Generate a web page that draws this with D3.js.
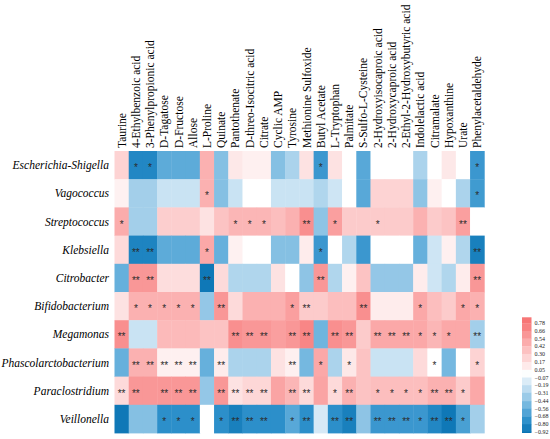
<!DOCTYPE html>
<html>
<head>
<meta charset="utf-8">
<script src="https://cdn.jsdelivr.net/npm/d3@7"></script>
<style>
  html, body { margin: 0; padding: 0; background: #ffffff; }
  svg { display: block; }
</style>
</head>
<body>
<svg id="chart" width="550" height="439"></svg>
<script>
// ---------------- DATA ----------------
const genera = ["Escherichia-Shigella", "Vagococcus", "Streptococcus", "Klebsiella", "Citrobacter",
  "Bifidobacterium", "Megamonas", "Phascolarctobacterium", "Paraclostridium", "Veillonella"];

const metabolites = ["Taurine", "4-Ethylbenzoic acid", "3-Phenylpropionic acid", "D-Tagatose", "D-Fructose",
  "Allose", "L-Proline", "Quinate", "Pantothenate", "D-threo-Isocitric acid", "Citrate", "Cyclic AMP",
  "Tyrosine", "Methionine Sulfoxide", "Butyl Acetate", "L-Tryptophan", "Palmitate", "S-Sulfo-L-Cysteine",
  "2-Hydroxyisocaproic acid", "2-Hydroxycaproic acid", "2-Ethyl-2-Hydroxybutyric acid", "Indolelactic acid",
  "Citramalate", "Hypoxanthine", "Urate", "Phenylacetaldehyde"];

// correlation coefficients, one row per genus (columns follow metabolites)
const corrEscherichia = [0.25, -0.8, -0.8, -0.58, -0.58, -0.58, 0.45, -0.45, 0.12, 0.08, 0.08, -0.45, -0.32, 0.15, -0.7, 0.15, 0, -0.6, 0, 0, 0, -0.32, 0, 0.12, 0, -0.7];
const corrVagococcus = [0.07, -0.35, -0.35, -0.2, -0.2, -0.2, 0.45, -0.45, -0.2, 0, 0, -0.2, -0.2, -0.2, -0.3, -0.18, 0, -0.6, 0.25, 0.25, 0.25, -0.42, 0.08, 0, -0.32, -0.68];
const corrStreptococcus = [0.48, -0.35, -0.35, 0.28, 0.28, 0.28, 0.15, 0.35, 0.42, 0.42, 0.42, 0.38, 0.45, 0.65, -0.42, 0.55, 0.3, 0.3, 0.3, 0.3, 0.3, 0.45, 0.3, 0.35, 0.55, 0];
const corrKlebsiella = [0.2, -0.82, -0.82, -0.58, -0.58, -0.58, 0.5, -0.55, 0.07, 0, 0, -0.45, -0.45, 0.1, -0.7, 0, -0.3, -0.7, 0, 0, 0, -0.55, -0.18, 0.08, -0.3, -0.85];
const corrCitrobacter = [-0.55, 0.6, 0.6, 0.18, 0.18, 0.18, -0.9, 0.2, -0.3, -0.3, -0.3, 0.15, 0, -0.42, 0.6, -0.3, 0.08, 0.35, -0.4, -0.4, -0.4, 0.1, -0.18, -0.3, 0.1, 0.6];
const corrBifidobacterium = [0.15, 0.45, 0.45, 0.45, 0.45, 0.45, -0.4, 0.6, 0.2, 0.45, 0.45, 0.45, 0.55, 0.3, 0.3, 0.38, 0.38, 0.65, 0.1, 0.1, 0.1, 0.5, 0.38, 0.3, 0.5, 0.45];
const corrMegamonas = [0.65, -0.2, -0.2, 0.4, 0.4, 0.4, 0.35, 0.35, 0.65, 0.6, 0.6, 0.55, 0.6, 0.7, -0.52, 0.65, 0.6, 0.3, 0.5, 0.5, 0.5, 0.5, 0.42, 0.5, 0.5, -0.35];
const corrPhascolarctobacterium = [-0.55, 0.45, 0.45, 0.08, 0.08, 0.08, -0.55, 0.1, -0.32, -0.32, -0.32, 0.15, 0.08, -0.5, 0.5, -0.32, 0.12, 0.35, -0.2, -0.2, -0.2, 0.2, 0, -0.5, 0, 0.25];
const corrParaclostridium = [0.2, 0.6, 0.6, 0.6, 0.6, 0.6, -0.4, 0.6, 0.15, 0.22, 0.22, 0.52, 0.42, 0.2, 0.52, 0.2, 0.45, 0.35, 0.38, 0.38, 0.38, 0.38, 0.45, 0.45, 0.3, 0.5];
const corrVeillonella = [-0.9, -0.45, -0.45, -0.75, -0.75, -0.75, 0, -0.75, -0.85, -0.75, -0.75, -0.75, -0.6, -0.75, -0.15, -0.75, -0.85, -0.42, -0.7, -0.7, -0.7, -0.7, -0.8, -0.9, -0.65, -0.35];

// significance marks
const sigEscherichia = ["", "*", "*", "", "", "", "", "", "", "", "", "", "", "", "*", "", "", "", "", "", "", "", "", "", "", "*"];
const sigVagococcus = ["", "", "", "", "", "", "*", "", "", "", "", "", "", "", "", "", "", "", "", "", "", "", "", "", "", "*"];
const sigStreptococcus = ["*", "", "", "", "", "", "", "", "*", "*", "*", "", "", "**", "", "*", "", "", "*", "", "", "", "", "", "**", ""];
const sigKlebsiella = ["", "**", "**", "", "", "", "*", "", "", "", "", "", "", "", "*", "", "", "", "", "", "", "", "", "", "", "**"];
const sigCitrobacter = ["", "**", "**", "", "", "", "**", "", "", "", "", "", "", "", "**", "", "", "", "", "", "", "", "", "", "", "**"];
const sigBifidobacterium = ["", "*", "*", "*", "*", "*", "", "**", "", "", "", "", "*", "**", "", "", "", "**", "", "", "", "*", "", "", "*", "*"];
const sigMegamonas = ["**", "", "", "", "", "", "", "", "**", "**", "**", "", "**", "**", "", "**", "**", "", "**", "**", "**", "*", "*", "*", "", "**"];
const sigPhascolarctobacterium = ["", "**", "**", "**", "**", "**", "", "**", "", "", "", "", "**", "", "*", "", "*", "", "", "", "", "", "*", "", "", "*"];
const sigParaclostridium = ["**", "**", "", "**", "**", "**", "", "**", "**", "**", "**", "", "**", "**", "", "*", "**", "", "*", "*", "*", "*", "**", "**", "*", ""];
const sigVeillonella = ["", "", "", "*", "*", "*", "", "*", "**", "**", "**", "", "*", "**", "", "**", "**", "", "**", "**", "**", "*", "**", "**", "*", ""];

const legendTicks = [0.78, 0.66, 0.54, 0.42, 0.30, 0.17, 0.05, -0.07, -0.19, -0.31, -0.44, -0.56, -0.68, -0.80, -0.92];

// ---------------- BUILD ----------------
const corrRows = [corrEscherichia, corrVagococcus, corrStreptococcus, corrKlebsiella, corrCitrobacter,
  corrBifidobacterium, corrMegamonas, corrPhascolarctobacterium, corrParaclostridium, corrVeillonella];
const sigRows = [sigEscherichia, sigVagococcus, sigStreptococcus, sigKlebsiella, sigCitrobacter,
  sigBifidobacterium, sigMegamonas, sigPhascolarctobacterium, sigParaclostridium, sigVeillonella];

const cells = [];
genera.forEach((g, r) => metabolites.forEach((m, c) => {
  cells.push({ genus: g, metab: m, v: corrRows[r][c], sig: sigRows[r][c] });
}));

const svg = d3.select("#chart");
svg.append("rect").attr("width", 550).attr("height", 439).attr("fill", "#ffffff");

const x = d3.scaleBand().domain(metabolites).range([114.5, 484.3]).paddingInner(0).paddingOuter(0);
const y = d3.scaleBand().domain(genera).range([151, 433]).paddingInner(0).paddingOuter(0);

const posColor = d3.scaleLinear().domain([0, 0.15, 0.35, 0.55, 0.8])
  .range(["#ffffff", "#fde2e2", "#fcc3c3", "#fa9f9f", "#f77676"]).clamp(true);
const negColor = d3.scaleLinear().domain([0, -0.15, -0.35, -0.55, -0.75, -0.95])
  .range(["#ffffff", "#d6e9f6", "#a3cfea", "#66b0dc", "#2c8fca", "#0570b0"]).clamp(true);
const color = v => v >= 0 ? posColor(v) : negColor(v);

// cells
svg.append("g").selectAll("rect").data(cells).join("rect")
  .attr("x", d => x(d.metab))
  .attr("y", d => y(d.genus))
  .attr("width", x.bandwidth() + 0.4)
  .attr("height", y.bandwidth() + 0.4)
  .attr("fill", d => color(d.v));

// significance stars
svg.append("g").selectAll("text").data(cells.filter(d => d.sig)).join("text")
  .attr("x", d => x(d.metab) + x.bandwidth() / 2)
  .attr("y", d => y(d.genus) + y.bandwidth() / 2)
  .attr("dy", "0.6em")
  .attr("text-anchor", "middle")
  .attr("font-family", "'Liberation Sans', Arial, sans-serif")
  .attr("font-size", 10)
  .attr("fill", "#2b2b2b")
  .text(d => d.sig);

// column labels (rotated)
svg.append("g").selectAll("text").data(metabolites).join("text")
  .attr("transform", d => `translate(${x(d) + x.bandwidth() / 2},148) rotate(-90)`)
  .attr("dy", "0.35em")
  .attr("text-anchor", "start")
  .attr("font-family", "'Liberation Serif', 'Times New Roman', serif")
  .attr("font-size", 11.5)
  .attr("fill", "#000")
  .text(d => d);

// row labels
svg.append("g").selectAll("text").data(genera).join("text")
  .attr("x", 109)
  .attr("y", d => y(d) + y.bandwidth() / 2)
  .attr("dy", "0.35em")
  .attr("text-anchor", "end")
  .attr("font-family", "'Liberation Serif', 'Times New Roman', serif")
  .attr("font-style", "italic")
  .attr("font-size", 11.5)
  .attr("fill", "#000")
  .text(d => d);

// color legend (stepped)
const barTop = 317.3, barBottom = 432.7, barX = 522, barW = 9.5;
const yBar = d3.scaleLinear().domain([legendTicks[0], legendTicks[legendTicks.length - 1]]).range([323.3, 431.7]);
const bounds = [barTop, ...legendTicks.map(t => yBar(t)), barBottom];
const blocks = d3.pairs(bounds).map(([a, b]) => ({ y0: a, y1: b, v: yBar.invert((a + b) / 2) }));
const lg = svg.append("g");
lg.selectAll("rect").data(blocks).join("rect")
  .attr("x", barX).attr("width", barW)
  .attr("y", d => d.y0).attr("height", d => d.y1 - d.y0 + 0.3)
  .attr("fill", d => color(d.v));
lg.selectAll("text").data(legendTicks).join("text")
  .attr("x", barX + barW + 3)
  .attr("y", d => yBar(d))
  .attr("dy", "0.35em")
  .attr("font-family", "'Liberation Serif', 'Times New Roman', serif")
  .attr("font-size", 6)
  .attr("fill", "#222")
  .text(d => (d < 0 ? "\u2212" : "") + Math.abs(d).toFixed(2));
</script>
</body>
</html>
